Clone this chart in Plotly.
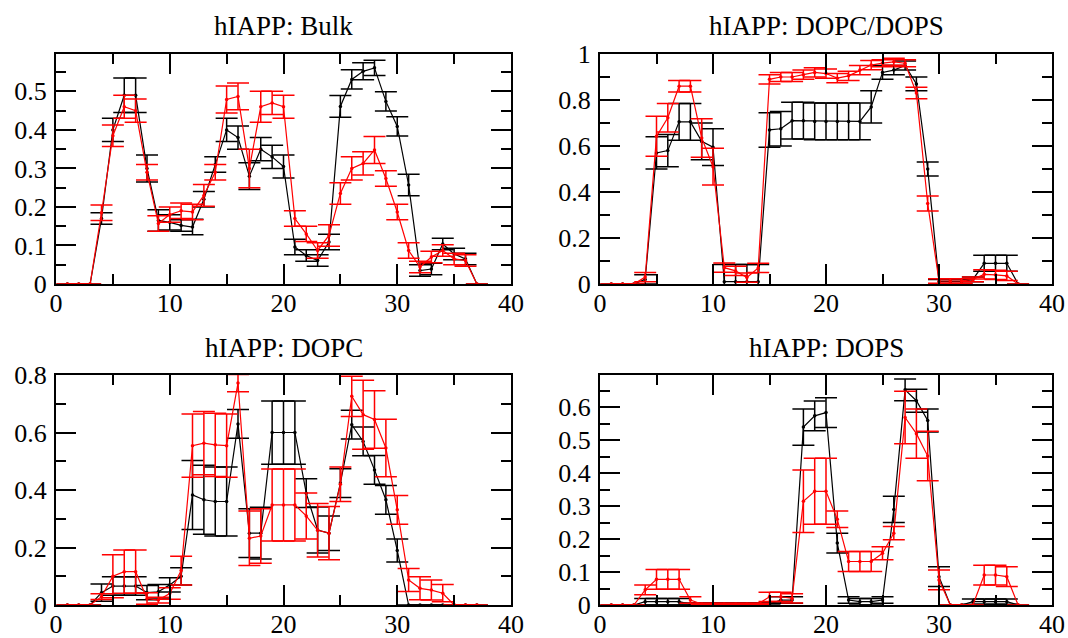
import plotly.graph_objects as go

residues = list(range(1, 38))

titles = ["hIAPP: Bulk", "hIAPP: DOPC/DOPS", "hIAPP: DOPC", "hIAPP: DOPS"]

bulk_black = [0, 0, 0, 0.17, 0.40, 0.49, 0.49, 0.30, 0.165, 0.16, 0.152, 0.148, 0.22, 0.31, 0.40, 0.38, 0.28, 0.35, 0.33, 0.305,
              0.096, 0.074, 0.061, 0.109, 0.461, 0.531, 0.552, 0.561, 0.474, 0.409, 0.257, 0.035, 0.039, 0.104, 0.078, 0.065, 0]
bulk_black_err = [0, 0, 0, 0.015, 0.03, 0.045, 0.045, 0.035, 0.028, 0.02, 0.015, 0.02, 0.02, 0.02, 0.03, 0.03, 0.035, 0.03, 0.03, 0.03,
                  0.02, 0.015, 0.015, 0.02, 0.028, 0.025, 0.022, 0.02, 0.025, 0.025, 0.028, 0.015, 0.015, 0.015, 0.015, 0.015, 0]
bulk_red = [0, 0, 0, 0.185, 0.385, 0.46, 0.45, 0.29, 0.157, 0.18, 0.19, 0.187, 0.23, 0.29, 0.479, 0.487, 0.30, 0.46, 0.47, 0.46,
            0.17, 0.13, 0.087, 0.126, 0.235, 0.30, 0.313, 0.348, 0.274, 0.187, 0.087, 0.044, 0.070, 0.087, 0.065, 0.061, 0]
bulk_red_err = [0, 0, 0, 0.02, 0.028, 0.03, 0.03, 0.02, 0.02, 0.02, 0.02, 0.02, 0.028, 0.02, 0.035, 0.035, 0.05, 0.04, 0.03, 0.03,
                0.02, 0.02, 0.02, 0.028, 0.028, 0.03, 0.03, 0.035, 0.02, 0.02, 0.02, 0.015, 0.015, 0.015, 0.015, 0.015, 0]

mix_black = [0, 0, 0, 0.02, 0.57, 0.58, 0.705, 0.705, 0.62, 0.595, 0.01, 0.01, 0.01, 0.01, 0.67, 0.675, 0.71, 0.71, 0.707, 0.707,
             0.707, 0.707, 0.707, 0.77, 0.92, 0.93, 0.95, 0.87, 0.50, 0.01, 0.01, 0.01, 0.02, 0.09, 0.09, 0.09, 0]
mix_black_err = [0, 0, 0, 0.02, 0.07, 0.07, 0.08, 0.08, 0.08, 0.08, 0.075, 0.075, 0.075, 0.075, 0.075, 0.075, 0.08, 0.08, 0.08, 0.08,
                 0.08, 0.08, 0.08, 0.07, 0.03, 0.02, 0.02, 0.03, 0.03, 0.01, 0.01, 0.01, 0.01, 0.035, 0.035, 0.035, 0]
mix_red = [0, 0, 0, 0.03, 0.642, 0.723, 0.86, 0.86, 0.635, 0.51, 0.071, 0.057, 0.028, 0.07, 0.89, 0.90, 0.90, 0.91, 0.92, 0.915,
           0.895, 0.905, 0.93, 0.952, 0.96, 0.966, 0.96, 0.83, 0.35, 0.013, 0.013, 0.013, 0.02, 0.042, 0.04, 0.035, 0]
mix_red_err = [0, 0, 0, 0.02, 0.087, 0.062, 0.025, 0.025, 0.084, 0.08, 0.02, 0.02, 0.02, 0.02, 0.02, 0.02, 0.02, 0.02, 0.02, 0.02,
               0.02, 0.02, 0.02, 0.02, 0.015, 0.015, 0.015, 0.025, 0.033, 0.01, 0.01, 0.01, 0.01, 0.02, 0.02, 0.02, 0]

dopc_black = [0, 0, 0, 0.043, 0.066, 0.066, 0.066, 0.043, 0.046, 0.07, 0.10, 0.383, 0.366, 0.36, 0.36, 0.63, 0.25, 0.25, 0.60, 0.60,
              0.60, 0.389, 0.261, 0.25, 0.424, 0.627, 0.569, 0.47, 0.366, 0.19, 0, 0, 0, 0, 0, 0, 0]
dopc_black_err = [0, 0, 0, 0.03, 0.032, 0.032, 0.032, 0.025, 0.025, 0.025, 0.03, 0.12, 0.12, 0.12, 0.12, 0.05, 0.085, 0.09, 0.11, 0.11,
                  0.11, 0.05, 0.08, 0.06, 0.05, 0.05, 0.05, 0.05, 0.05, 0.04, 0, 0, 0, 0, 0, 0, 0]
dopc_red = [0, 0, 0, 0.029, 0.10, 0.116, 0.116, 0.023, 0.017, 0.04, 0.12, 0.554, 0.563, 0.557, 0.554, 0.772, 0.232, 0.24, 0.348, 0.348,
            0.348, 0.31, 0.26, 0.25, 0.42, 0.726, 0.662, 0.645, 0.546, 0.331, 0.087, 0.058, 0.052, 0.041, 0, 0, 0]
dopc_red_err = [0, 0, 0, 0.01, 0.075, 0.075, 0.075, 0.02, 0.01, 0.02, 0.05, 0.11, 0.11, 0.11, 0.11, 0.03, 0.095, 0.095, 0.125, 0.125,
                0.125, 0.08, 0.093, 0.093, 0.06, 0.07, 0.12, 0.1, 0.1, 0.05, 0.04, 0.04, 0.035, 0.03, 0, 0, 0]

dops_black = [0, 0, 0, 0.01, 0.01, 0.01, 0.01, 0.003, 0.003, 0.003, 0.003, 0.003, 0.003, 0.003, 0.003, 0.015, 0.015, 0.54, 0.574, 0.584,
              0.188, 0.015, 0.01, 0.01, 0.015, 0.29, 0.653, 0.62, 0.56, 0.086, 0, 0, 0.01, 0.01, 0.01, 0.01, 0]
dops_black_err = [0, 0, 0, 0.01, 0.01, 0.01, 0.01, 0.003, 0.003, 0.003, 0.003, 0.003, 0.003, 0.003, 0.003, 0.01, 0.01, 0.055, 0.045, 0.045,
                  0.03, 0.01, 0.01, 0.01, 0.01, 0.04, 0.033, 0.035, 0.035, 0.03, 0, 0, 0.008, 0.008, 0.008, 0.008, 0]
dops_red = [0, 0, 0, 0.046, 0.078, 0.078, 0.078, 0.015, 0.003, 0.003, 0.003, 0.003, 0.003, 0.003, 0.025, 0.025, 0.02, 0.315, 0.345, 0.345,
            0.26, 0.132, 0.132, 0.132, 0.157, 0.218, 0.569, 0.52, 0.452, 0.076, 0, 0, 0, 0.091, 0.091, 0.086, 0]
dops_red_err = [0, 0, 0, 0.015, 0.03, 0.03, 0.03, 0.01, 0.002, 0.002, 0.002, 0.002, 0.002, 0.002, 0.014, 0.014, 0.014, 0.095, 0.1, 0.1,
                0.025, 0.03, 0.03, 0.03, 0.02, 0.02, 0.08, 0.075, 0.075, 0.03, 0, 0, 0, 0.03, 0.03, 0.03, 0]

panels = [
    (bulk_black, bulk_black_err, bulk_red, bulk_red_err),
    (mix_black, mix_black_err, mix_red, mix_red_err),
    (dopc_black, dopc_black_err, dopc_red, dopc_red_err),
    (dops_black, dops_black_err, dops_red, dops_red_err),
]
y_ranges = [[0, 0.597], [0, 1.0], [0, 0.8], [0, 0.698]]
y_dticks = [0.1, 0.2, 0.2, 0.1]
y_minor = [0.05, 0.1, 0.1, 0.05]

W, H = 1068, 638
px_x = [(56, 511), (600, 1052), (56, 511), (600, 1052)]
px_y = [(54, 284), (54, 284), (375, 605), (375, 605)]
title_y = [26, 26, 348, 348]

FONT = "Liberation Serif, Times New Roman, serif"

fig = go.Figure()
layout = dict(width=W, height=H, margin=dict(l=0, r=0, t=0, b=0),
              paper_bgcolor="white", plot_bgcolor="white", showlegend=False,
              font=dict(family=FONT, size=26, color="black"))
annotations = []

for i, (bk, bke, rd, rde) in enumerate(panels):
    n = i + 1
    xa = "x" if n == 1 else f"x{n}"
    ya = "y" if n == 1 else f"y{n}"
    for vals, errs, col in ((bk, bke, "black"), (rd, rde, "red")):
        fig.add_trace(go.Scatter(
            x=residues, y=vals, xaxis=xa, yaxis=ya, mode="lines+markers",
            line=dict(color=col, width=1.2),
            marker=dict(color=col, size=3.5, symbol="circle"),
            error_y=dict(type="data", array=errs, visible=True, color=col,
                         thickness=1.5, width=11),
        ))
    x0, x1 = px_x[i]
    y0, y1 = px_y[i]
    axis_common = dict(showline=True, linecolor="black", linewidth=2, mirror="allticks",
                       ticks="inside", ticklen=20, tickwidth=2, tickcolor="black",
                       showgrid=False, zeroline=False, automargin=False,
                       tickfont=dict(family=FONT, size=26, color="black"))
    layout["xaxis" if n == 1 else f"xaxis{n}"] = dict(
        axis_common, domain=[x0 / W, x1 / W], range=[0, 40], dtick=10, tick0=0,
        anchor=ya, ticklabelstandoff=-5,
        minor=dict(ticks="inside", ticklen=10, tickwidth=2, tickcolor="black", dtick=5, tick0=0, showgrid=False))
    layout["yaxis" if n == 1 else f"yaxis{n}"] = dict(
        axis_common, domain=[1 - y1 / H, 1 - y0 / H], range=y_ranges[i], dtick=y_dticks[i], tick0=0,
        anchor=xa, ticklabelstandoff=2,
        minor=dict(ticks="inside", ticklen=10, tickwidth=2, tickcolor="black", dtick=y_minor[i], tick0=0, showgrid=False))
    annotations.append(dict(text=titles[i], xref="paper", yref="paper",
                            x=(x0 + x1) / 2 / W, y=1 - title_y[i] / H,
                            xanchor="center", yanchor="middle", showarrow=False,
                            font=dict(family=FONT, size=27, color="black")))

layout["annotations"] = annotations
fig.update_layout(**layout)
fig.write_html("out.html")
